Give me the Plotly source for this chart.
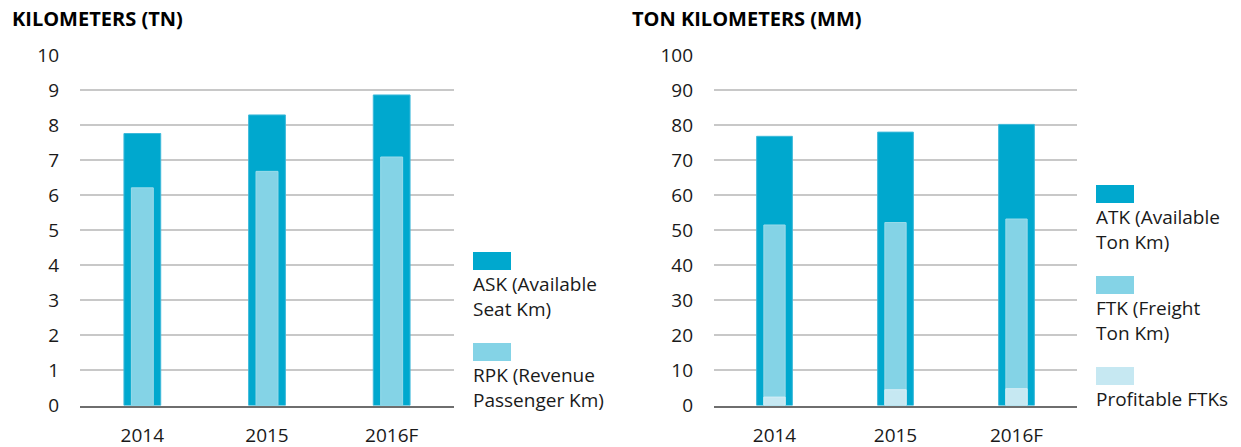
import plotly.graph_objects as go

# ---- data ----
years = ["2014", "2015", "2016F"]

ask = [7.76, 8.29, 8.86]
rpk = [6.21, 6.68, 7.09]

atk = [76.8, 78.0, 80.2]
ftk = [51.5, 52.2, 53.2]
profitable_ftk = [2.4, 4.5, 4.8]

left_title = "KILOMETERS (TN)"
right_title = "TON KILOMETERS (MM)"
left_ticks = list(range(0, 11, 1))
right_ticks = list(range(0, 101, 10))

left_names = ["ASK (Available\nSeat Km)", "RPK (Revenue\nPassenger Km)"]
right_names = ["ATK (Available\nTon Km)", "FTK (Freight\nTon Km)", "Profitable FTKs"]

# ---- style ----
W, H = 1241, 447
DARK = "#00A8CE"
MID = "#84D3E6"
LIGHT = "#C6E8F2"
GRID = "#C8C8C8"
FONT = "Open Sans"
TXT = "#1a1a1a"


def px(x):
    return x / W


def py(y):
    return (H - y) / H


fig = go.Figure()

wide, narrow = 0.295, 0.176

fig.add_trace(go.Bar(x=years, y=ask, width=wide, marker=dict(color=DARK, line=dict(color="#3DB9DA", width=1)),
                     xaxis="x", yaxis="y", name=left_names[0].replace("\n", " ")))
fig.add_trace(go.Bar(x=years, y=rpk, width=narrow, marker=dict(color=MID, line=dict(color="#9ADBEA", width=1)),
                     xaxis="x", yaxis="y", name=left_names[1].replace("\n", " ")))

fig.add_trace(go.Bar(x=years, y=atk, width=wide, marker=dict(color=DARK, line=dict(color="#3DB9DA", width=1)),
                     xaxis="x2", yaxis="y2", name=right_names[0].replace("\n", " ")))
fig.add_trace(go.Bar(x=years, y=ftk, width=narrow, marker=dict(color=MID, line=dict(color="#9ADBEA", width=1)),
                     xaxis="x2", yaxis="y2", name=right_names[1].replace("\n", " ")))
fig.add_trace(go.Bar(x=years, y=profitable_ftk, width=narrow, marker=dict(color=LIGHT, line=dict(color="#D5EEF6", width=1)),
                     xaxis="x2", yaxis="y2", name=right_names[2]))

ydom = [py(405.5), py(55)]

xcommon = dict(type="category", showgrid=False, zeroline=False, showline=True, linecolor="#6E6E6E",
               linewidth=2, ticks="", tickfont=dict(family=FONT, size=19, color=TXT),
               ticklabelstandoff=12, fixedrange=True, automargin=False)
ycommon = dict(showgrid=True, gridcolor=GRID, gridwidth=2, zeroline=False, showline=False, ticks="",
               tickfont=dict(family=FONT, size=19, color=TXT), ticklabelstandoff=20,
               fixedrange=True, automargin=False, domain=ydom)

fig.update_layout(
    width=W, height=H,
    margin=dict(l=0, r=0, t=0, b=0),
    paper_bgcolor="white", plot_bgcolor="white",
    barmode="overlay", bargap=0,
    showlegend=False,
    font=dict(family=FONT, color=TXT),
    xaxis=dict(domain=[px(80), px(454)], anchor="y", **xcommon),
    yaxis=dict(anchor="x", range=[0, 10], tickvals=left_ticks, **ycommon),
    xaxis2=dict(domain=[px(714), px(1077)], anchor="y2", **xcommon),
    yaxis2=dict(anchor="x2", range=[0, 100], tickvals=right_ticks, **ycommon),
)

annotations = []
shapes = []

# titles
for title, x0 in [(left_title, 10), (right_title, 630)]:
    annotations.append(dict(text=f"<b>{title}</b>", x=px(x0), y=py(18), xref="paper", yref="paper",
                            xanchor="left", yanchor="middle", showarrow=False,
                            font=dict(family=FONT, size=20, color="#000")))


def legend(names, colors, x0, swatch_tops, line_gap=25):
    for name, color, top in zip(names, colors, swatch_tops):
        shapes.append(dict(type="rect", xref="paper", yref="paper", x0=px(x0), x1=px(x0 + 38),
                           y0=py(top + 18), y1=py(top), fillcolor=color, line=dict(width=0)))
        lines = name.split("\n")
        center = top + 32 + (len(lines) - 1) * line_gap / 2
        annotations.append(dict(text="<br>".join(lines), x=px(x0 - 2), y=py(center), xref="paper", yref="paper",
                                xanchor="left", yanchor="middle", align="left", showarrow=False,
                                font=dict(family=FONT, size=19, color=TXT)))


legend(left_names, [DARK, MID], 473, [252, 343])
legend(right_names, [DARK, MID, LIGHT], 1096, [185, 276, 367])

fig.update_layout(annotations=annotations, shapes=shapes)

fig.write_html("out.html", config={"displayModeBar": False, "staticPlot": True},
               post_script="document.body.style.margin='0';document.body.style.overflow='hidden';")
